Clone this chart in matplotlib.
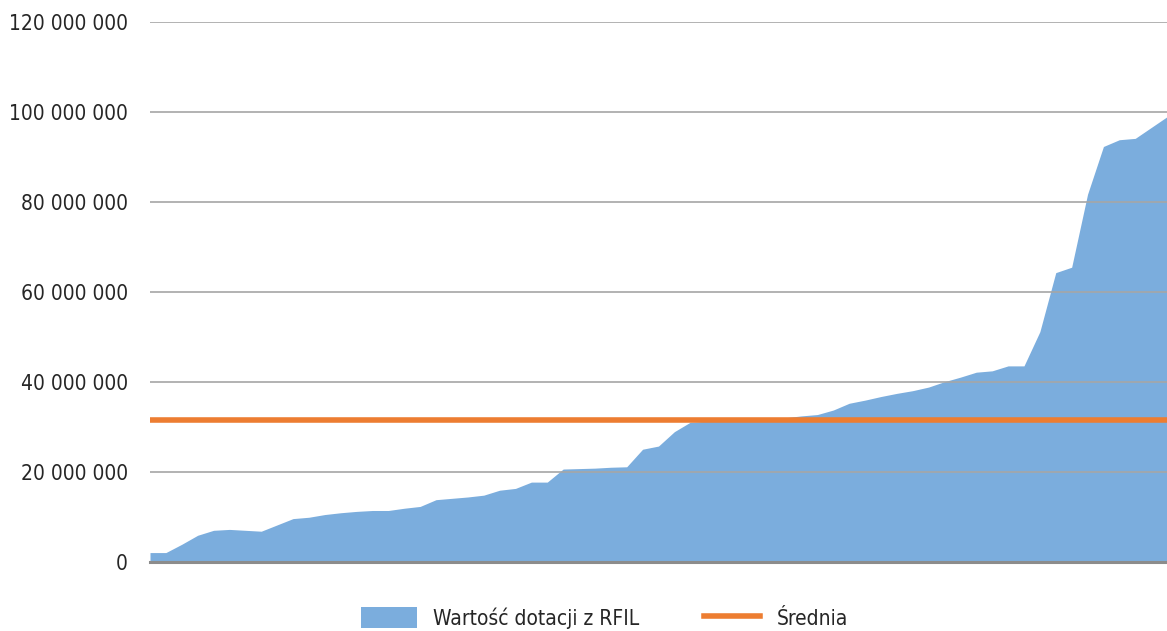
import numpy as np
import matplotlib
matplotlib.use("Agg")
import matplotlib.pyplot as plt
from matplotlib import font_manager
from matplotlib.patches import Patch
from matplotlib.lines import Line2D
from matplotlib.ticker import FuncFormatter

# Wartości dotacji (posortowane rosnąco)
dotacje = [
    2.16e6, 2.16e6, 4.0e6, 6.0e6, 7.1e6, 7.3e6, 7.1e6, 6.9e6, 8.3e6, 9.7e6,
    10.0e6, 10.6e6, 11.0e6, 11.3e6, 11.5e6, 11.5e6, 12.0e6, 12.4e6, 13.9e6, 14.2e6,
    14.5e6, 14.9e6, 16.0e6, 16.4e6, 17.8e6, 17.8e6, 20.7e6, 20.8e6, 20.9e6, 21.1e6,
    21.2e6, 25.1e6, 25.8e6, 29.0e6, 31.1e6, 31.3e6, 31.5e6, 31.6e6, 31.7e6, 31.8e6,
    32.1e6, 32.5e6, 32.8e6, 33.8e6, 35.3e6, 36.0e6, 36.8e6, 37.5e6, 38.1e6, 38.9e6,
    40.1e6, 41.1e6, 42.2e6, 42.5e6, 43.6e6, 43.6e6, 51.2e6, 64.3e6, 65.5e6, 81.7e6,
    92.3e6, 93.8e6, 94.1e6, 96.5e6, 98.9e6,
]
srednia = 31.6e6
y_ticks = [0, 20e6, 40e6, 60e6, 80e6, 100e6, 120e6]
etykieta_area = "Wartość dotacji z RFIL"
etykieta_linia = "Średnia"

# waski font, jesli jest dostepny
fonty = font_manager.fontManager.ttflist
nazwy = {f.name for f in fonty}
font_kw = {"family": "DejaVu Sans", "size": 13}
if "Liberation Sans Narrow" in nazwy:
    font_kw = {"family": "Liberation Sans Narrow", "size": 18}
elif any(f.name == "DejaVu Sans" and f.stretch == "condensed" for f in fonty):
    font_kw = {"family": "DejaVu Sans", "stretch": "condensed", "size": 15}
fs_px = font_kw["size"] * 100 / 72

niebieski = "#7BADDD"
pomaranczowy = "#ED7D31"

fig = plt.figure(figsize=(11.67, 6.31), dpi=100)
ax = fig.add_axes([150 / 1167, 68.7 / 631, 1 - 150 / 1167, 540.6 / 631])

x = np.arange(len(dotacje))
ax.fill_between(x, dotacje, 0, color=niebieski, linewidth=0, zorder=1)
ax.axhline(srednia, color=pomaranczowy, linewidth=4, zorder=4)

ax.set_xlim(0, len(dotacje) - 1)
ax.set_ylim(0, 120e6)
ax.set_yticks(y_ticks)
ax.yaxis.set_major_formatter(FuncFormatter(lambda v, p: f"{int(v):,}".replace(",", " ")))
ax.set_xticks([])
ax.yaxis.grid(True, color="#A6A6A6", linewidth=1.2, zorder=2)
ax.set_axisbelow(False)
ax.tick_params(axis="y", length=0, pad=16, labelcolor="#262626")
for lab in ax.get_yticklabels():
    lab.set_fontproperties(font_manager.FontProperties(**font_kw))

for s in ["top", "right", "left"]:
    ax.spines[s].set_visible(False)
ax.spines["bottom"].set_color("#8C8C8C")
ax.spines["bottom"].set_linewidth(2.2)
ax.spines["bottom"].set_zorder(3)

uchwyty = [
    Patch(facecolor=niebieski, edgecolor="none"),
    Line2D([0], [0], color=pomaranczowy, linewidth=4),
]
fig.legend(uchwyty, [etykieta_area, etykieta_linia],
           loc="center left", bbox_to_anchor=(361 / 1167, 13 / 631),
           ncol=2, frameon=False, borderpad=0, borderaxespad=0,
           handlelength=56 / fs_px, handleheight=24 / fs_px,
           handletextpad=16 / fs_px, columnspacing=65 / fs_px,
           prop=font_manager.FontProperties(**font_kw),
           labelcolor="#262626")

fig.savefig("out.png", dpi=100)
